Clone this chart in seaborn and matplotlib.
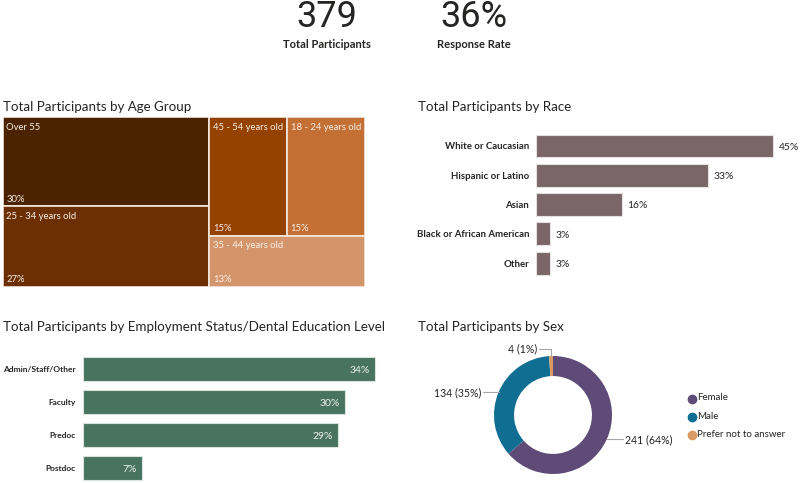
import matplotlib
matplotlib.use("Agg")
import matplotlib.pyplot as plt
import seaborn as sns
import pandas as pd
import numpy as np

# ---- data ----
age_groups = ["Over 55", "25 - 34 years old", "45 - 54 years old", "18 - 24 years old", "35 - 44 years old"]
age_pct = [30, 27, 15, 15, 13]
age_colors = ["#4b2300", "#6c2f03", "#954100", "#c46f33", "#d5956a"]

race_labels = ["White or Caucasian", "Hispanic or Latino", "Asian", "Black or African American", "Other"]
race_pct = [45.3, 32.8, 16.4, 2.7, 2.7]

emp_labels = ["Admin/Staff/Other", "Faculty", "Predoc", "Postdoc"]
emp_pct = [33.7, 30.2, 29.4, 6.9]

sex_labels = ["Female", "Male", "Prefer not to answer"]
sex_counts = [241, 134, 4]
sex_colors = ["#5f4b78", "#0f6e91", "#d99b63"]

response_rate = 36

sns.set_theme(style="white")
plt.rcParams["font.family"] = ["Lato", "DejaVu Sans"]
TXT = "#252423"

fig = plt.figure(figsize=(8, 4.83), dpi=100)
W, H = 800, 483


def px_axes(x0, y0, x1, y1):
    return fig.add_axes([x0 / W, 1 - y1 / H, (x1 - x0) / W, (y1 - y0) / H])


# ---- KPI cards ----
total = sum(sex_counts)
fig.text(327 / W, 1 - 17 / H, f"{total}", ha="center", va="center", fontsize=26, color=TXT, family="Roboto")
fig.text(327 / W, 1 - 45 / H, "Total Participants", ha="center", va="center", fontsize=8, color=TXT, weight="bold")
fig.text(474 / W, 1 - 17 / H, f"{response_rate}%", ha="center", va="center", fontsize=26, color=TXT, family="Roboto")
fig.text(474 / W, 1 - 45 / H, "Response Rate", ha="center", va="center", fontsize=8, color=TXT, weight="bold")


# ---- treemap: age groups ----
def treemap_layout(vals):
    tot = sum(vals)
    left = (vals[0] + vals[1]) / tot
    h0 = vals[0] / (vals[0] + vals[1])
    rest = tot - vals[0] - vals[1]
    top_h = (vals[2] + vals[3]) / rest
    wr = 1 - left
    w2 = wr * vals[2] / (vals[2] + vals[3])
    return [
        (0, 1 - h0, left, h0),
        (0, 0, left, 1 - h0),
        (left, 1 - top_h, w2, top_h),
        (left + w2, 1 - top_h, wr - w2, top_h),
        (left, 0, wr, 1 - top_h),
    ]


TITLE = 9.6
fig.text(3 / W, 1 - 107 / H, "Total Participants by Age Group", ha="left", va="center", fontsize=TITLE, color=TXT)
ax_t = px_axes(3, 117, 365, 287)
rects = treemap_layout(age_pct)
for (x, y, w, h), name, pct, col in zip(rects, age_groups, age_pct, age_colors):
    ax_t.bar(x, h, width=w, bottom=y, align="edge", color=col, edgecolor="#f3e9e0", linewidth=1.2)
    ax_t.annotate(name, (x, y + h), xytext=(2.5, -4), textcoords="offset points",
                  ha="left", va="top", fontsize=6.8, color="#f5f0eb")
    ax_t.annotate(f"{pct}%", (x, y), xytext=(2.5, 2), textcoords="offset points",
                  ha="left", va="bottom", fontsize=6.8, color="#f5f0eb")
ax_t.set_xlim(0, 1)
ax_t.set_ylim(0, 1)
ax_t.axis("off")

# ---- race bar chart ----
fig.text(418 / W, 1 - 107 / H, "Total Participants by Race", ha="left", va="center", fontsize=TITLE, color=TXT)
r_scale = 237.3 / race_pct[0]
ax_r = px_axes(536, 131.3, 799.5, 277.8)
race_df = pd.DataFrame({"race": race_labels, "pct": race_pct})
sns.barplot(data=race_df, y="race", x="pct", orient="h", color="#7a6568", saturation=1, width=0.78,
            edgecolor="#e6dfe0", linewidth=0.8, ax=ax_r)
for p, v in zip(ax_r.patches, race_pct):
    ax_r.annotate(f"{v:.0f}%", (p.get_width(), p.get_y() + p.get_height() / 2), xytext=(4, -1),
                  textcoords="offset points", ha="left", va="center", fontsize=7.5, color=TXT)
ax_r.set_xlim(0, 263.5 / r_scale)
ax_r.set_ylim(4.5, -0.5)
ax_r.set_xlabel("")
ax_r.set_ylabel("")
ax_r.set_xticks([])
ax_r.tick_params(axis="y", length=0, pad=5, labelsize=6.9, labelcolor=TXT)
for t in ax_r.get_yticklabels():
    t.set_fontweight("bold")
sns.despine(ax=ax_r, left=True, bottom=True)

# ---- employment bar chart ----
fig.text(3 / W, 1 - 327 / H, "Total Participants by Employment Status/Dental Education Level",
         ha="left", va="center", fontsize=TITLE, color=TXT)
e_scale = 293 / emp_pct[0]
ax_e = px_axes(82.5, 352.5, 82.5 + e_scale * 40, 484.5)
emp_df = pd.DataFrame({"status": emp_labels, "pct": emp_pct})
sns.barplot(data=emp_df, y="status", x="pct", orient="h", color="#48735f", saturation=1, width=0.74,
            edgecolor="#d9e3de", linewidth=0.8, ax=ax_e)
for p, v in zip(ax_e.patches, emp_pct):
    ax_e.annotate(f"{v:.0f}%", (p.get_width(), p.get_y() + p.get_height() / 2), xytext=(-4, -1),
                  textcoords="offset points", ha="right", va="center", fontsize=7.5, color="#eef2ef")
ax_e.set_xlim(0, 40)
ax_e.set_ylim(3.5, -0.5)
ax_e.set_xlabel("")
ax_e.set_ylabel("")
ax_e.set_xticks([])
ax_e.tick_params(axis="y", length=0, pad=5, labelsize=6.0, labelcolor=TXT)
for t in ax_e.get_yticklabels():
    t.set_fontweight("bold")
sns.despine(ax=ax_e, left=True, bottom=True)

# ---- donut: sex ----
fig.text(418 / W, 1 - 327 / H, "Total Participants by Sex", ha="left", va="center", fontsize=TITLE, color=TXT)
r_px = 59
ax_d = px_axes(553 - r_px, 415 - r_px, 553 + r_px, 415 + r_px)
wedges, _ = ax_d.pie(sex_counts, colors=sex_colors, startangle=90, counterclock=False,
                     wedgeprops=dict(width=0.34, edgecolor="none"), radius=1)
ax_d.set_xlim(-1, 1)
ax_d.set_ylim(-1, 1)
ax_d.set_aspect("equal")
lc = "#a6a6a6"
for w, n in zip(wedges, sex_counts):
    ang = np.deg2rad((w.theta1 + w.theta2) / 2)
    px_, py_ = np.cos(ang), np.sin(ang)
    lab = f"{n} ({n / total:.0%})"
    if abs(px_) > 0.3:
        side = np.sign(px_)
        ax_d.plot([px_, side * 1.18], [py_, py_], color=lc, lw=0.8, clip_on=False)
        ax_d.text(side * 1.22, py_, lab, ha="left" if side > 0 else "right", va="center",
                  fontsize=7.6, color=TXT, clip_on=False)
    else:
        ax_d.plot([px_, px_, px_ - 0.2], [py_, 1.12, 1.12], color=lc, lw=0.8, clip_on=False)
        ax_d.text(px_ - 0.24, 1.12, lab, ha="right", va="center", fontsize=7.6, color=TXT, clip_on=False)

for i, (lab, col) in enumerate(zip(sex_labels, sex_colors)):
    fig.text(697 / W, 1 - (398 + 18.2 * i) / H, lab, ha="left", va="center", fontsize=7, color=TXT)
    fig.lines.append(plt.Line2D([692 / W], [1 - (398.5 + 18.2 * i) / H], marker="o", markersize=6,
                                color=col, transform=fig.transFigure, figure=fig))

fig.savefig("out.png", dpi=100, facecolor="white")
